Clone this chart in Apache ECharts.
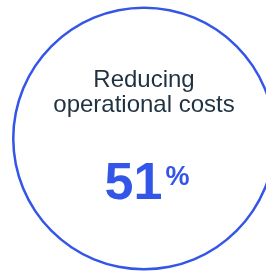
<!DOCTYPE html>
<html>
<head>
<meta charset="utf-8">
<script src="https://cdn.jsdelivr.net/npm/echarts@6/dist/echarts.min.js"></script>
<style>
  html, body { margin: 0; padding: 0; background: #fff; }
  #chart { width: 266px; height: 272px; }
</style>
</head>
<body>
<div id="chart"></div>
<script>
// KPI data
const labels = ['Reducing\noperational costs'];
const values = [51];
const unit = '%';

const chart = echarts.init(document.getElementById('chart'));
chart.setOption({
  animation: false,
  series: [
    {
      type: 'gauge',
      center: [144, 138.5],
      radius: 132,
      startAngle: 90,
      endAngle: -270,
      min: 0,
      max: 100,
      pointer: { show: false },
      progress: { show: false },
      axisLine: {
        lineStyle: { width: 2.5, color: [[1, '#3355e8']] }
      },
      axisTick: { show: false },
      splitLine: { show: false },
      axisLabel: { show: false },
      title: {
        offsetCenter: [0, -46],
        fontFamily: 'Liberation Sans',
        fontSize: 24,
        lineHeight: 25,
        color: '#1f3242'
      },
      detail: {
        offsetCenter: [3, 46],
        fontFamily: 'Liberation Sans',
        formatter: function (v) { return '{a|' + v + '}{b|' + unit + '}'; },
        rich: {
          a: { fontSize: 52, fontWeight: 'bold', color: '#3355e8', lineHeight: 56, fontFamily: 'Liberation Sans' },
          b: { fontSize: 27, color: '#3355e8', verticalAlign: 'top', padding: [8, 0, 0, 3], lineHeight: 28, fontFamily: 'Liberation Sans' }
        }
      },
      data: values.map((v, i) => ({ value: v, name: labels[i] }))
    }
  ]
});
</script>
</body>
</html>
